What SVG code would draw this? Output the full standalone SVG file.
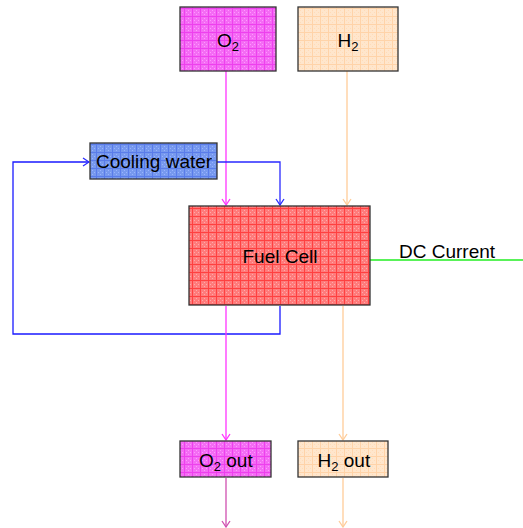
<svg xmlns="http://www.w3.org/2000/svg" width="523" height="528" viewBox="0 0 523 528">
<defs>
<pattern id="pMag" width="8" height="8" patternUnits="userSpaceOnUse">
<rect width="8" height="8" fill="#f46cf4"/>
<path d="M0 0.5H8M0.5 0V8" stroke="#ee40ee" stroke-width="1"/>
<path d="M4 2h1v1h-1zM2 4h1v1h-1zM6 4h1v1h-1zM4 6h1v1h-1z" fill="#ff99ff"/>
</pattern>
<pattern id="pPeach" width="8" height="8" patternUnits="userSpaceOnUse">
<rect width="8" height="8" fill="#ffe6cc"/>
<path d="M0 0.5H8M0.5 0V8" stroke="#ffd3a8" stroke-width="1"/>
<path d="M4 2h1v1h-1zM2 4h1v1h-1zM6 4h1v1h-1zM4 6h1v1h-1z" fill="#ffdcb8"/>
</pattern>
<pattern id="pBlue" width="8" height="8" patternUnits="userSpaceOnUse">
<rect width="8" height="8" fill="#7799ee"/>
<path d="M0 0.5H8M0.5 0V8" stroke="#5a7cea" stroke-width="1"/>
<path d="M4 2h1v1h-1zM2 4h1v1h-1zM6 4h1v1h-1zM4 6h1v1h-1z" fill="#99b3ff"/>
</pattern>
<pattern id="pRed" width="8" height="8" patternUnits="userSpaceOnUse">
<rect width="8" height="8" fill="#ff7b7b"/>
<path d="M0 0.5H8M0.5 0V8" stroke="#ff4040" stroke-width="1"/>
<path d="M4 2h1v1h-1zM2 4h1v1h-1zM6 4h1v1h-1zM4 6h1v1h-1z" fill="#ffaaaa"/>
</pattern>
<marker id="aMag" viewBox="0 0 10 10" refX="9" refY="5" markerWidth="10" markerHeight="10" markerUnits="userSpaceOnUse" orient="auto"><path d="M3 1L9 5L3 9" fill="none" stroke="#ff33ff" stroke-width="1.3"/></marker>
<marker id="aMag2" viewBox="0 0 10 10" refX="9" refY="5" markerWidth="10" markerHeight="10" markerUnits="userSpaceOnUse" orient="auto"><path d="M3 1L9 5L3 9" fill="none" stroke="#d050b0" stroke-width="1.3"/></marker>
<marker id="aPeach" viewBox="0 0 10 10" refX="9" refY="5" markerWidth="10" markerHeight="10" markerUnits="userSpaceOnUse" orient="auto"><path d="M3 1L9 5L3 9" fill="none" stroke="#ffcc99" stroke-width="1.3"/></marker>
<marker id="aBlue" viewBox="0 0 10 10" refX="9" refY="5" markerWidth="10" markerHeight="10" markerUnits="userSpaceOnUse" orient="auto"><path d="M3 1L9 5L3 9" fill="none" stroke="#2a2aff" stroke-width="1.3"/></marker>
</defs>
<style>
.box{stroke:#333333;stroke-width:1.3}
.t{font-family:"Liberation Sans",Arial,sans-serif;font-size:19px;fill:#000}
.sub{font-size:13px}
.c{fill:none;stroke-width:1.3}
</style>
<g id="connectors">
<path class="c" d="M226 71V205" stroke="#ff33ff" marker-end="url(#aMag)"/>
<path class="c" d="M347 71V205" stroke="#ffcc99" marker-end="url(#aPeach)"/>
<path class="c" d="M217 162H280V205" stroke="#2a2aff" marker-end="url(#aBlue)"/>
<path class="c" d="M280 306V334H13V162H89" stroke="#1a1aff" marker-end="url(#aBlue)"/>
<path class="c" d="M370 260H523" stroke="#22ee22"/>
<path class="c" d="M226 306V440" stroke="#ff33ff" marker-end="url(#aMag)"/>
<path class="c" d="M343 306V440" stroke="#ffcc99" marker-end="url(#aPeach)"/>
<path class="c" d="M226 478V527" stroke="#d050b0" marker-end="url(#aMag2)"/>
<path class="c" d="M343 478V527" stroke="#ffcc99" marker-end="url(#aPeach)"/>
</g>
<g id="o2">
<rect class="box" x="180" y="7" width="96" height="64" fill="url(#pMag)"/>
<text class="t" x="217" y="47">O<tspan class="sub" dy="4">2</tspan></text>
</g>
<g id="h2">
<rect class="box" x="298" y="7" width="100" height="64" fill="url(#pPeach)"/>
<text class="t" x="337.5" y="47">H<tspan class="sub" dy="4">2</tspan></text>
</g>
<g id="cooling">
<rect class="box" x="90" y="143" width="127" height="36" fill="url(#pBlue)"/>
<text class="t" x="96" y="168">Cooling water</text>
</g>
<g id="fuelcell">
<rect class="box" x="189" y="206" width="181" height="99" fill="url(#pRed)"/>
<text class="t" x="280" y="263" text-anchor="middle">Fuel Cell</text>
</g>
<g id="dc">
<text class="t" x="399" y="258">DC Current</text>
</g>
<g id="o2out">
<rect class="box" x="180" y="441" width="91" height="36" fill="url(#pMag)"/>
<text class="t" x="199" y="467">O<tspan class="sub" dy="4">2</tspan><tspan dy="-4"> out</tspan></text>
</g>
<g id="h2out">
<rect class="box" x="298" y="441" width="90" height="36" fill="url(#pPeach)"/>
<text class="t" x="317.5" y="467">H<tspan class="sub" dy="4">2</tspan><tspan dy="-4"> out</tspan></text>
</g>
</svg>
